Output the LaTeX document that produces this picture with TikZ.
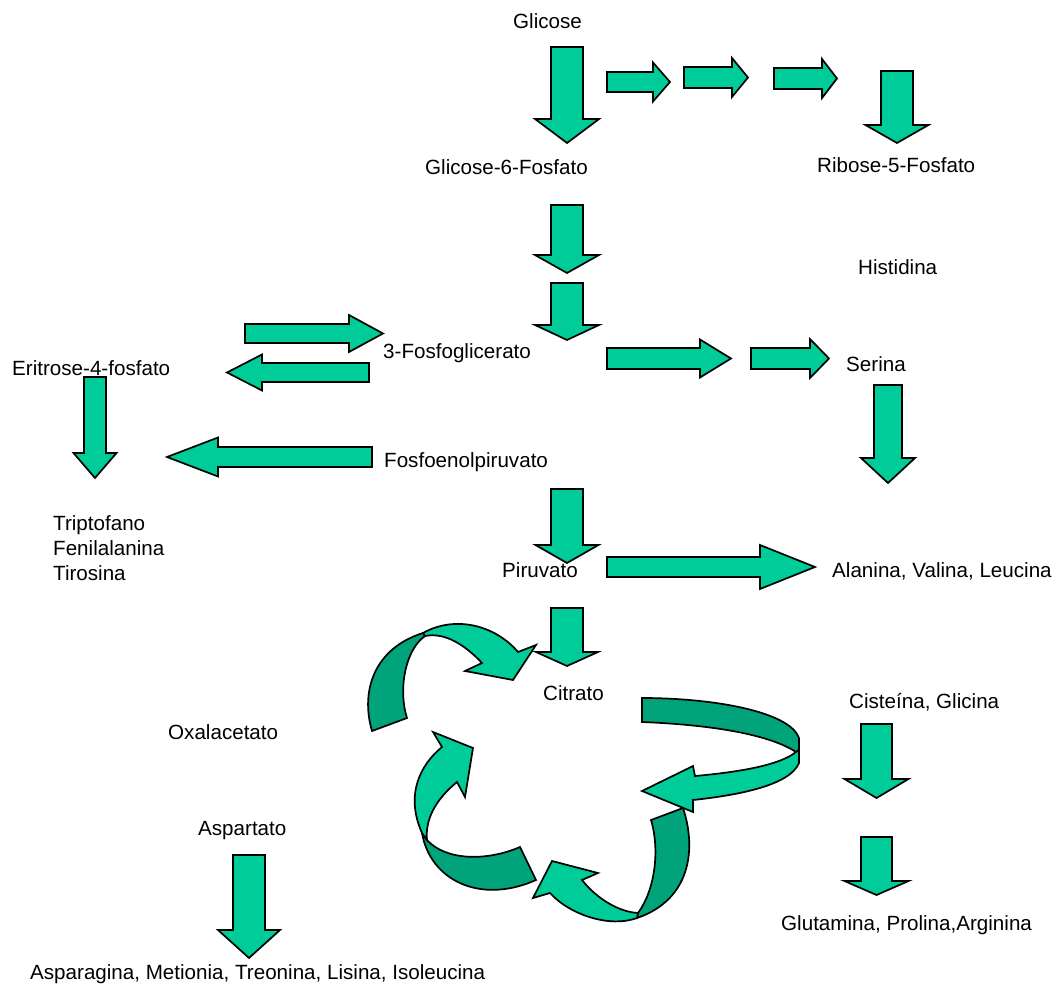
\documentclass[tikz,border=0pt]{standalone}
\usepackage{fontspec}
\setmainfont{Liberation Sans}
\definecolor{ribbonlight}{RGB}{0,204,153}
\definecolor{ribbondark}{RGB}{0,163,122}
\tikzset{
  blockarrow/.style={fill=ribbonlight, draw=black, line width=1.7pt},
  backside/.style={fill=ribbondark, draw=black, line width=1.7pt},
  lbl/.style={inner sep=0pt, font=\fontsize{20.6}{25}\selectfont},
}
% vertical block arrow: centre x, half shaft, half head, top y, head y, tip y
\newcommand{\vblock}[6]{\draw[blockarrow] (#1-#2,#4) -- (#1+#2,#4) -- (#1+#2,#5) -- (#1+#3,#5) -- (#1,#6) -- (#1-#3,#5) -- (#1-#2,#5) -- cycle;}
% horizontal block arrow: centre y, half shaft, half head, start x, head x, tip x
\newcommand{\hblock}[6]{\draw[blockarrow] (#4,#1-#2) -- (#5,#1-#2) -- (#5,#1-#3) -- (#6,#1) -- (#5,#1+#3) -- (#5,#1+#2) -- (#4,#1+#2) -- cycle;}
\begin{document}
\begin{tikzpicture}[x=1pt,y=-1pt]
\useasboundingbox (0,0) rectangle (1060,987);
% labels
\node[lbl, anchor=base west] (glicose) at (513,29) {Glicose};
\node[lbl, anchor=base west] (g6p) at (425,175) {Glicose-6-Fosfato};
\node[lbl, anchor=base west] (r5p) at (817,173) {Ribose-5-Fosfato};
\node[lbl, anchor=base west] (histidina) at (858,274) {Histidina};
\node[lbl, anchor=base west] (fosfoglic) at (383,358) {3-Fosfoglicerato};
\node[lbl, anchor=base west] (eritrose) at (12,375) {Eritrose-4-fosfato};
\node[lbl, anchor=base west] (serina) at (846,371) {Serina};
\node[lbl, anchor=base west] (pep) at (384,467) {Fosfoenolpiruvato};
\node[lbl, anchor=base west] (trip) at (53,530) {Triptofano};
\node[lbl, anchor=base west] (fenil) at (53,555) {Fenilalanina};
\node[lbl, anchor=base west] (tiros) at (53,580) {Tirosina};
\node[lbl, anchor=base west] (piruvato) at (502,577) {Piruvato};
\node[lbl, anchor=base west] (alanina) at (832,577) {Alanina, Valina, Leucina};
\node[lbl, anchor=base west] (citrato) at (543,700) {Citrato};
\node[lbl, anchor=base west] (cisteina) at (849,708) {Cisteína, Glicina};
\node[lbl, anchor=base west] (oxal) at (168,739) {Oxalacetato};
\node[lbl, anchor=base west] (aspartato) at (198,835) {Aspartato};
\node[lbl, anchor=base west] (glutamina) at (781,930) {Glutamina, Prolina,Arginina};
\node[lbl, anchor=base west] (asparagina) at (30,979) {Asparagina, Metionia, Treonina, Lisina, Isoleucina};
% block arrows
\foreach \cx/\hs/\hh/\ya/\yb/\yc in {567/16/32/47/119/143, 897/16/31.5/71/125/143,
  567/16/32/205/255/273, 567/16/32/283/325/340, 888/14/27/385/458/483,
  95/11/21.5/377/453/478, 567/16/31.5/489/545/563, 567/16/31/608/652/666,
  876.5/15.5/32/724/779/798, 876.5/15.5/32/837/881/895, 249/16/31/855/930/958}
  {\vblock{\cx}{\hs}{\hh}{\ya}{\yb}{\yc}}
\foreach \cy/\hs/\hh/\xa/\xb/\xc in {82/10/19.5/607/653/670, 77.5/10.5/19.5/684/732/748,
  78.5/10.5/19.5/774/822/837, 358.5/10.5/19/607/700/731, 358.5/10.5/19.5/751/810/829,
  333.5/9.5/18.5/245/349/383, 372.5/9.5/18/369/262/227, 457/10/19.5/372/218/167,
  567/10/22/607/760/815}
  {\hblock{\cy}{\hs}{\hh}{\xa}{\xb}{\xc}}
% cycle ribbons
\draw[backside] (372,731) .. controls (360,690) and (375,648) .. (423,633) -- (425,636)
  .. controls (405,650) and (398,690) .. (407,718) -- cycle;
\draw[blockarrow] (423,633) .. controls (455,615) and (495,625) .. (518,652) -- (536,645)
  -- (513,680) -- (465,671) -- (482,663) .. controls (465,645) and (445,632) .. (425,636) -- cycle;
\draw[backside] (642,698) .. controls (715,698) and (790,712) .. (799,738) -- (799,750)
  -- (796,752) .. controls (770,735) and (715,725) .. (642,722) -- cycle;
\draw[blockarrow] (796,752) -- (799,750) -- (799,763) .. controls (790,785) and (740,795) .. (693,800)
  -- (693,812) -- (642,791) -- (693,766) -- (695,776) .. controls (740,772) and (780,765) .. (796,752) -- cycle;
\draw[backside] (651,820) -- (683,808) .. controls (697,850) and (690,900) .. (637,918) -- (638,913)
  .. controls (655,890) and (660,850) .. (651,820) -- cycle;
\draw[blockarrow] (637,918) .. controls (610,928) and (570,915) .. (550,893) -- (533,898)
  -- (552,861) -- (598,873) -- (582,880) .. controls (598,900) and (620,912) .. (638,913) -- cycle;
\draw[backside] (520,847) .. controls (485,862) and (445,860) .. (427,840) -- (422,833)
  .. controls (430,880) and (480,905) .. (536,880) -- cycle;
\draw[blockarrow] (422,833) .. controls (405,795) and (420,765) .. (442,747) -- (433,732)
  -- (473,748) -- (465,797) -- (457,782) .. controls (435,800) and (425,820) .. (427,840) -- cycle;
\end{tikzpicture}
\end{document}
